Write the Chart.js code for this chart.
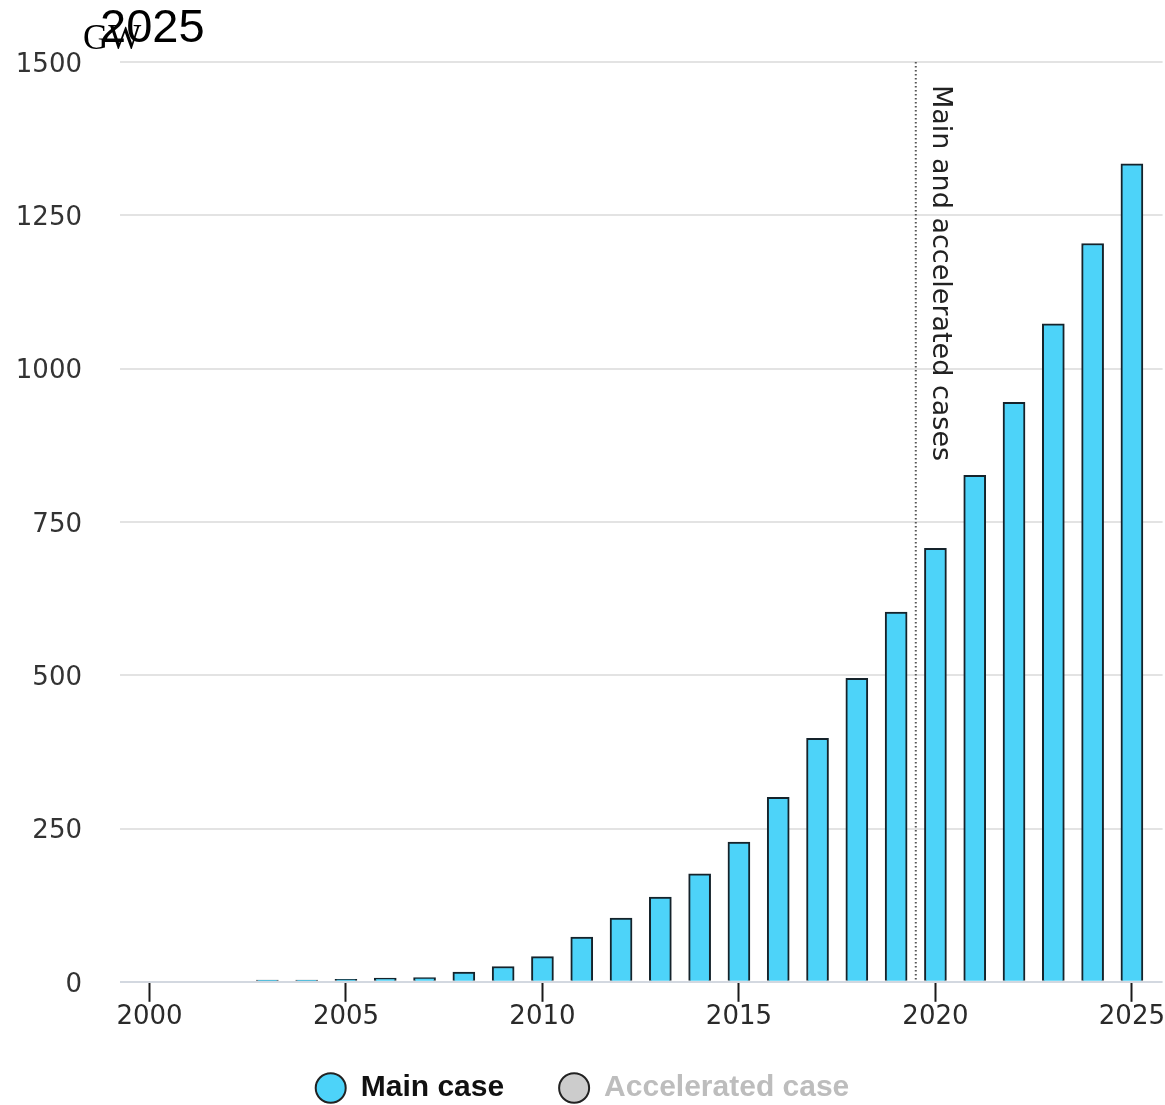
<!DOCTYPE html>
<html>
<head>
<meta charset="utf-8">
<script src="https://cdn.jsdelivr.net/npm/chart.js@4.4.1/dist/chart.umd.min.js"></script>
<style>
  html, body { margin: 0; padding: 0; background: #ffffff; }
  #wrap { width: 1165px; height: 1105px; position: relative; }
</style>
</head>
<body>
<div id="wrap"><canvas id="chart" width="1165" height="1105"></canvas></div>
<script>
// Cumulative capacity, GW
const years = [2000, 2001, 2002, 2003, 2004, 2005, 2006, 2007, 2008, 2009, 2010, 2011, 2012,
               2013, 2014, 2015, 2016, 2017, 2018, 2019, 2020, 2021, 2022, 2023, 2024, 2025];
const mainCase = [0, 0, 0, 3, 3, 4, 6, 7, 16, 25, 41, 73, 104,
                  138, 176, 228, 301, 397, 495, 603, 707, 826, 945, 1073, 1204, 1334];
const acceleratedCase = [];
const xTickYears = [2000, 2005, 2010, 2015, 2020, 2025];
const yTicks = [0, 250, 500, 750, 1000, 1250, 1500];
const seriesNames = ['Main case', 'Accelerated case'];
const titleText = '2025';
const unitText = 'GW';
const splitLabel = 'Main and accelerated cases';
const splitYear = 2019.5;

const tickFont = { family: 'DejaVu Sans', size: 26 };

const overlay = {
  id: 'overlay',
  // wide item spacing in the legend; keep its row close under the axis labels
  afterLayout(chart) {
    const lg = chart.legend;
    if (lg) {
      lg.top -= 15;
      lg.bottom = chart.height;
      lg.height = lg.bottom - lg.top;
    }
  },
  afterDatasetsDraw(chart) {
    const { ctx, chartArea, scales } = chart;
    const x = scales.x.getPixelForValue(splitYear);
    ctx.save();
    // dotted divider between historical and projected years
    ctx.strokeStyle = '#555';
    ctx.lineWidth = 2;
    ctx.setLineDash([1.5, 2.5]);
    ctx.beginPath();
    ctx.moveTo(x, chartArea.top);
    ctx.lineTo(x, chartArea.bottom);
    ctx.stroke();
    ctx.setLineDash([]);
    // rotated divider caption
    ctx.translate(x + 11, chartArea.top + 23);
    ctx.rotate(Math.PI / 2);
    ctx.fillStyle = '#222';
    ctx.font = '27px "DejaVu Sans"';
    ctx.textAlign = 'left';
    ctx.textBaseline = 'bottom';
    ctx.fillText(splitLabel, 0, 0);
    ctx.restore();
  },
  afterDraw(chart) {
    const { ctx } = chart;
    ctx.save();
    ctx.fillStyle = '#000';
    ctx.textBaseline = 'alphabetic';
    ctx.textAlign = 'left';
    ctx.font = '35px "Liberation Serif"';
    ctx.fillText(unitText, 83, 49);
    ctx.font = '47px "Liberation Sans"';
    ctx.fillText(titleText, 100, 42);
    ctx.restore();
  }
};

new Chart(document.getElementById('chart'), {
  type: 'bar',
  data: {
    datasets: [
      {
        label: seriesNames[0],
        data: years.map((y, i) => ({ x: y, y: mainCase[i] })),
        backgroundColor: '#4dd3f9',
        borderColor: '#15232b',
        borderWidth: 2,
        borderSkipped: 'bottom',
        barThickness: 22,
        grouped: false
      },
      {
        label: seriesNames[1],
        data: acceleratedCase,
        backgroundColor: '#cccccc',
        borderColor: '#333333',
        borderWidth: 2,
        barThickness: 22,
        grouped: false
      }
    ]
  },
  plugins: [overlay],
  options: {
    responsive: false,
    animation: false,
    layout: { padding: { top: 62, right: 0, left: 0, bottom: 0 } },
    scales: {
      x: {
        type: 'linear',
        offset: false,
        min: 1999.25,
        max: 2025.78,
        afterBuildTicks(scale) { scale.ticks = xTickYears.map(v => ({ value: v })); },
        grid: {
          offset: false,
          drawOnChartArea: false,
          drawTicks: true,
          tickLength: 20,
          tickWidth: 2,
          tickColor: '#1a1a1a'
        },
        border: { display: false },
        ticks: {
          font: tickFont,
          color: '#2a2a2a',
          padding: 0,
          maxRotation: 0,
          autoSkip: false,
          callback: v => String(v)
        }
      },
      y: {
        min: 0,
        max: 1500,
        afterBuildTicks(scale) { scale.ticks = yTicks.map(v => ({ value: v })); },
        afterFit(scale) { scale.width = 120; },
        grid: {
          drawTicks: false,
          lineWidth: 2,
          color: ctx => ctx.tick && ctx.tick.value === 0 ? '#d3d8e0' : '#e3e3e3'
        },
        border: { display: false },
        ticks: {
          font: tickFont,
          color: '#333',
          padding: 38,
          labelOffset: 3,
          callback: v => String(v)
        }
      }
    },
    plugins: {
      legend: {
        position: 'bottom',
        align: 'center',
        maxHeight: 72,
        labels: {
          usePointStyle: true,
          pointStyleWidth: 30,
          boxHeight: 21,
          padding: 55,
          font: { family: 'Liberation Sans', size: 30, weight: 'bold' },
          generateLabels(chart) {
            return chart.data.datasets.map((ds, i) => ({
              text: ds.label,
              fillStyle: ds.backgroundColor,
              strokeStyle: '#222',
              lineWidth: 2,
              pointStyle: 'circle',
              fontColor: i === 0 ? '#111' : '#bdbdbd',
              hidden: false,
              datasetIndex: i
            }));
          }
        }
      },
      tooltip: { enabled: false }
    }
  }
});
</script>
</body>
</html>
